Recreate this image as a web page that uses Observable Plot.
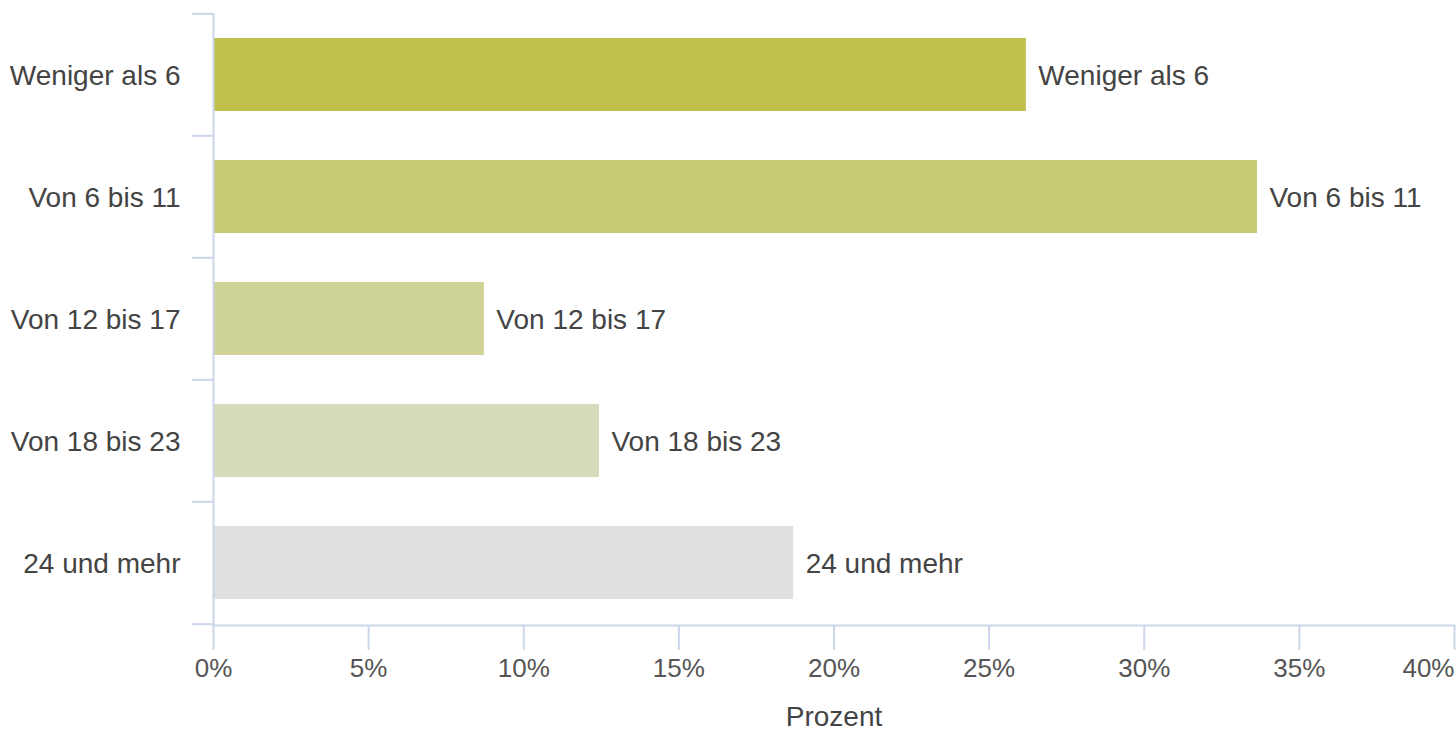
<!DOCTYPE html>
<html>
<head>
<meta charset="utf-8">
<script src="https://cdn.jsdelivr.net/npm/d3@7"></script>
<script src="https://cdn.jsdelivr.net/npm/@observablehq/plot@0.6"></script>
<style>
  html, body { margin: 0; padding: 0; background: #fff; }
  #chart { width: 1456px; height: 735px; }
</style>
</head>
<body>
<div id="chart"></div>
<script>
const categories = ["Weniger als 6", "Von 6 bis 11", "Von 12 bis 17", "Von 18 bis 23", "24 und mehr"];
const values = [26.2, 33.65, 8.73, 12.44, 18.7];
const colors = ["#bfc04b", "#c6ca74", "#d0d396", "#d8dabc", "#e0e0e0"];
const xTicks = [0, 5, 10, 15, 20, 25, 30, 35, 40];
const axisTitle = "Prozent";

const data = categories.map((c, i) => ({cat: c, value: values[i]}));
const axisColor = "#ccd6eb";
const textColor = "#444";
const H = 735, MT = 13, MB = 110;
const halfStep = (H - MT - MB) / categories.length / 2;

const chart = Plot.plot({
  width: 1456,
  height: H,
  marginLeft: 213,
  marginRight: 2,
  marginTop: MT,
  marginBottom: MB,
  style: {fontFamily: "'Liberation Sans', Arial, sans-serif", background: "#fff", overflow: "visible"},
  x: {domain: [0, 40]},
  y: {domain: categories, paddingInner: 0.4, paddingOuter: 0.2},
  color: {domain: categories, range: colors},
  marks: [
    Plot.barX(data, {x: "value", y: "cat", fill: "cat"}),
    Plot.text(data, {x: "value", y: "cat", text: "cat", textAnchor: "start", dx: 12, dy: 1, fontSize: 28, fill: textColor}),
    Plot.ruleX([0], {stroke: axisColor, strokeWidth: 2}),
    Plot.frame({anchor: "bottom", stroke: axisColor, strokeWidth: 2}),
    Plot.axisY(categories, {tickSize: 21, tickFormat: () => "", dy: -halfStep, stroke: axisColor, strokeWidth: 2, label: null}),
    Plot.axisY([categories[categories.length - 1]], {tickSize: 21, tickFormat: () => "", dy: halfStep, stroke: axisColor, strokeWidth: 2, label: null}),
    Plot.axisY({tickSize: 0, tickPadding: 33, fontSize: 28, fill: textColor, dy: 1, label: null}),
    Plot.axisX(xTicks.slice(0, -1), {tickSize: 25, tickPadding: 8, stroke: axisColor, strokeWidth: 2, fill: "#555", fontSize: 26, tickFormat: d => d + "%", label: null}),
    Plot.axisX(xTicks.slice(-1), {tickSize: 25, tickPadding: 8, stroke: axisColor, strokeWidth: 2, fill: "#555", fontSize: 26, tickFormat: d => d + "%", textAnchor: "end", label: null}),
    Plot.text([axisTitle], {frameAnchor: "bottom", dy: 100, fontSize: 28, fill: textColor, text: d => d})
  ]
});
document.getElementById("chart").append(chart);
</script>
</body>
</html>
